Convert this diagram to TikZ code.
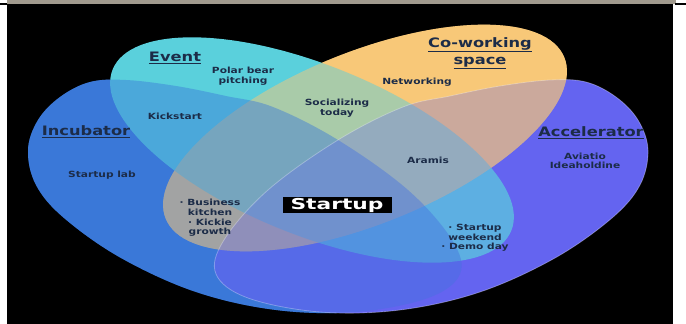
\documentclass[tikz,border=0pt]{standalone}
\usepackage{fontspec}
\usetikzlibrary{positioning}
\newfontfamily\vennfont[FakeStretch=1.25]{DejaVu Sans}
\newfontfamily\startfont[FakeStretch=1.45]{DejaVu Sans}
\definecolor{incub}{RGB}{58,120,216}
\definecolor{accel}{RGB}{100,100,240}
\definecolor{event}{RGB}{90,208,220}
\definecolor{cowork}{RGB}{248,200,120}
\definecolor{ink}{RGB}{28,44,72}
\definecolor{strip}{RGB}{160,154,142}
\newcommand{\ul}{\underline}

\begin{document}
\begin{tikzpicture}[x=1pt,y=-1pt,
    title/.style={font=\vennfont\bfseries\fontsize{13}{17}\selectfont,text=ink,inner sep=0pt,align=center},
    item/.style={font=\vennfont\bfseries\fontsize{8.5}{9.6}\selectfont,text=ink,inner sep=0pt,align=center}]
  \useasboundingbox (0,0) rectangle (686,324);
  \fill[white] (0,0) rectangle (686,324);
  \fill[strip] (7,0) rectangle (676,4);
  \fill[black] (0,3) rectangle (7,4.5);
  \fill[black] (675,3) rectangle (686,4.5);
  \fill[black] (7,4) rectangle (673,324);

  % the four sets
  \path[save path=\incset] plot[smooth cycle,tension=.6] coordinates {(28,150) (36,185) (64,218) (121,258)
    (196,292) (276,310) (356,312) (428,298) (460,274) (452,240) (408,190) (338,140) (273,107) (226,96)
    (176,86) (126,80) (90,82) (60,97) (38,120)};
  \path[save path=\accset] plot[smooth cycle,tension=.6] coordinates {(648,150) (640,185) (612,218) (555,258)
    (480,292) (400,310) (320,312) (248,298) (216,274) (224,240) (268,190) (338,140) (403,107) (450,96)
    (500,86) (550,80) (586,82) (616,97) (638,120)};
  \path[save path=\cowset,rotate around={22:(365,138)}] (365,138) ellipse [x radius=215,y radius=86];
  \path[save path=\evtset,rotate around={-22:(312,150)}] (312,150) ellipse [x radius=215,y radius=85];

  % solid first, then mixed where they overlap
  \fill[incub,use path=\incset];
  \fill[accel,use path=\accset];
  \fill[cowork,use path=\cowset];
  \fill[event,use path=\evtset];
  \fill[cowork,fill opacity=.5,use path=\cowset];
  \fill[incub,fill opacity=.45,use path=\incset];
  \fill[accel,fill opacity=.3,use path=\accset];
  \draw[white,draw opacity=.3,line width=.8pt,use path=\accset];

  % labels
  \node[title] (event) at (175,58) {\ul{Event}};
  \node[item] (polar) at (243,76) {Polar bear\\pitching};
  \node[title] (cowork) at (480,53) {\ul{Co-working}\\\ul{space}};
  \node[item] (networking) at (417,82) {Networking};
  \node[item] (social) at (337,108) {Socializing\\today};
  \node[item] (kickstart) at (175,116) {Kickstart};
  \node[title] (incubator) at (86,132) {\ul{Incubator}};
  \node[item] (startlab) at (102,175) {Startup lab};
  \node[item] (kitchen) at (210,218) {· Business\\kitchen\\· Kickie\\growth};
  \node[fill=black,text=white,font=\startfont\bfseries\fontsize{15}{16}\selectfont,
    minimum width=109,minimum height=16,inner sep=0pt] (startup) at (337,205) {Startup};
  \node[item] (aramis) at (428,160) {Aramis};
  \node[title] (accelerator) at (591,133) {\ul{Accelerator}};
  \node[item] (aviatio) at (585,161) {Aviatio\\Ideaholdine};
  \node[item] (weekend) at (475,238) {· Startup\\weekend\\· Demo day};
\end{tikzpicture}
\end{document}
